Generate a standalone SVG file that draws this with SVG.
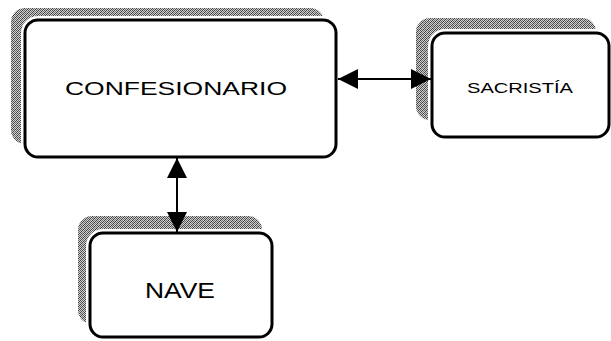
<svg xmlns="http://www.w3.org/2000/svg" width="611" height="341" viewBox="0 0 611 341">
<defs>
<pattern id="dith" width="4" height="4" patternUnits="userSpaceOnUse">
<rect width="4" height="4" fill="#d0d0d0"/>
<rect x="0" y="0" width="1" height="1" fill="#404040"/>
<rect x="2" y="0" width="1" height="1" fill="#707070"/>
<rect x="1" y="1" width="1" height="1" fill="#555"/>
<rect x="3" y="1" width="1" height="1" fill="#404040"/>
<rect x="0" y="2" width="1" height="1" fill="#606060"/>
<rect x="2" y="2" width="1" height="1" fill="#404040"/>
<rect x="1" y="3" width="1" height="1" fill="#404040"/>
<rect x="3" y="3" width="1" height="1" fill="#707070"/>
</pattern>
<marker id="ah" viewBox="0 0 20 20" refX="20" refY="10" markerWidth="20" markerHeight="20" markerUnits="userSpaceOnUse" orient="auto-start-reverse">
<path d="M0,0 L20,10 L0,20 Z" fill="#000"/>
</marker>
</defs>
<style>
.shadow{fill:url(#dith);stroke:none}
.gap{fill:none;stroke:#fff;stroke-width:8}
.box{fill:#fff;stroke:#000;stroke-width:3}
.lbl{font-family:"Liberation Sans","DejaVu Sans",sans-serif;fill:#000;text-anchor:middle}
.conn{stroke:#000;stroke-width:2;fill:none}
</style>
<rect width="611" height="341" fill="#fff"/>
<g id="confesionario">
<rect class="shadow" x="11" y="8" width="313" height="136" rx="14"/>
<rect class="gap" x="25" y="20" width="311" height="137" rx="13"/>
<rect class="box" x="25" y="20" width="311" height="137" rx="13"/>
<text class="lbl" x="176" y="95" font-size="19" textLength="222" lengthAdjust="spacingAndGlyphs">CONFESIONARIO</text>
</g>
<g id="sacristia">
<rect class="shadow" x="416" y="18" width="180" height="102" rx="14"/>
<rect class="gap" x="432" y="33" width="177" height="104" rx="13"/>
<rect class="box" x="432" y="33" width="177" height="104" rx="13"/>
<text class="lbl" x="520" y="93" font-size="15" textLength="106" lengthAdjust="spacingAndGlyphs">SACRISTÍA</text>
</g>
<g id="nave">
<rect class="shadow" x="78" y="216" width="184" height="108" rx="14"/>
<rect class="gap" x="90" y="233" width="182" height="104" rx="13"/>
<rect class="box" x="90" y="233" width="182" height="104" rx="13"/>
<text class="lbl" x="180" y="298" font-size="22" textLength="70" lengthAdjust="spacingAndGlyphs">NAVE</text>
</g>
<g id="connectors">
<line class="conn" x1="338" y1="79" x2="431" y2="79" marker-start="url(#ah)" marker-end="url(#ah)"/>
<line class="conn" x1="177" y1="158" x2="177" y2="232" marker-start="url(#ah)" marker-end="url(#ah)"/>
</g>
</svg>
